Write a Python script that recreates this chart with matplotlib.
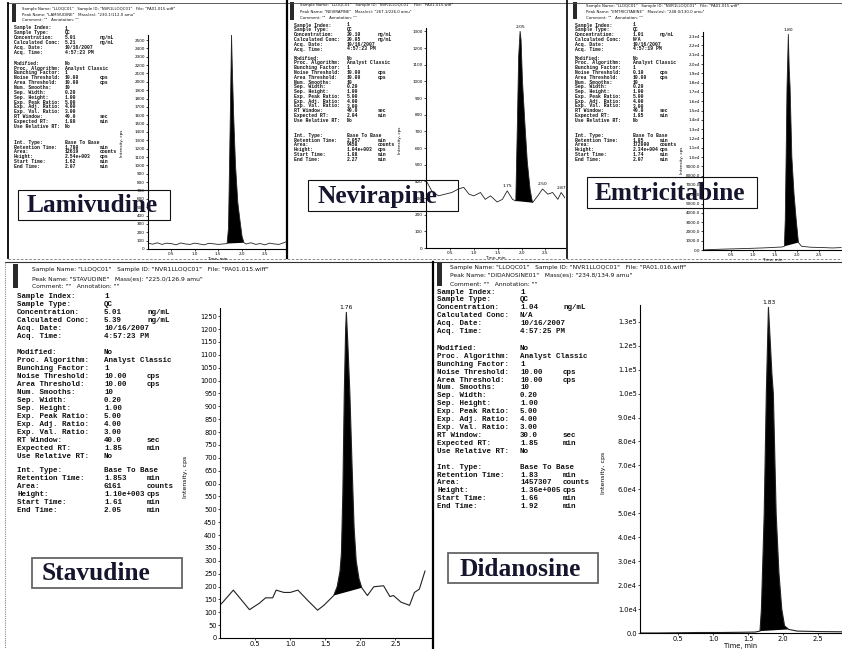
import matplotlib
matplotlib.use("Agg")
import matplotlib.pyplot as plt
from matplotlib.patches import Rectangle

W, H = 842, 649

# ---- chromatograms: time (min) / intensity (cps) ----
lam_t = [0.00, 0.10, 0.20, 0.30, 0.40, 0.50, 0.60, 0.70, 0.80, 0.90, 1.00, 1.10, 1.20,
         1.30, 1.40, 1.50, 1.60, 1.69, 1.72, 1.745, 1.77, 1.785, 1.80, 1.83, 1.87, 1.92,
         1.97, 2.01, 2.05, 2.10, 2.20, 2.30, 2.40, 2.50, 2.60, 2.70, 2.80, 2.90, 2.96]
lam_i = [70, 58, 74, 55, 70, 64, 50, 72, 60, 55, 70, 60, 50,
         68, 62, 55, 60, 65, 250, 1100, 2000, 2560, 2200, 1600, 1000, 550,
         320, 150, 75, 60, 75, 55, 65, 50, 70, 60, 55, 75, 90]
lam_peak = (1.69, 2.05)

nev_t = [0.01, 0.12, 0.26, 0.40, 0.54, 0.68, 0.79, 0.90, 1.00, 1.14, 1.24, 1.35, 1.49,
         1.60, 1.70, 1.81, 1.88, 1.91, 1.94, 1.97, 1.99, 2.02, 2.07, 2.12, 2.18, 2.23,
         2.34, 2.44, 2.55, 2.65, 2.76, 2.83, 2.91]
nev_i = [400, 343, 313, 323, 333, 354, 364, 323, 313, 333, 292, 313, 276,
         292, 343, 292, 282, 700, 1150, 1300, 1250, 1000, 750, 520, 350, 272,
         313, 354, 323, 333, 292, 333, 300]
nev_peak = (1.88, 2.23)
nev_marks = [(1.97, 1300, "2.05"), (1.70, 343, "1.75"), (2.44, 354, "2.50"), (2.83, 333, "2.87")]

emt_t = [-0.14, 0.00, 0.30, 0.60, 0.90, 1.20, 1.40, 1.55, 1.65, 1.71, 1.73, 1.75, 1.77,
         1.80, 1.82, 1.84, 1.88, 1.93, 1.98, 2.03, 2.10, 2.30, 2.60, 2.80, 3.00]
emt_i = [0, 40, 90, 130, 170, 220, 260, 300, 320, 400, 3200, 10000, 17500,
         23200, 19500, 17500, 10000, 6000, 3200, 800, 400, 300, 260, 220, 260]
emt_peak = (1.71, 2.03)
emt_marks = [(1.80, 23200, "1.80")]

sta_t = [0.02, 0.19, 0.42, 0.56, 0.65, 0.75, 0.80, 0.91, 1.00, 1.11, 1.25, 1.39, 1.48,
         1.62, 1.67, 1.71, 1.73, 1.75, 1.77, 1.79, 1.80, 1.82, 1.85, 1.88, 1.91, 1.94,
         1.98, 2.02, 2.10, 2.19, 2.33, 2.42, 2.47, 2.58, 2.70, 2.77, 2.84, 2.92]
sta_i = [133, 186, 110, 135, 156, 156, 186, 177, 177, 186, 146, 108, 127,
         165, 200, 260, 330, 560, 940, 1200, 1265, 1150, 950, 680, 430, 300,
         230, 195, 165, 199, 203, 161, 165, 139, 127, 177, 190, 260]
sta_peak = (1.62, 2.02)
sta_marks = [(1.80, 1265, "1.76")]

did_t = [-0.04, 0.20, 0.50, 0.80, 1.10, 1.40, 1.60, 1.67, 1.69, 1.73, 1.76, 1.79, 1.81,
         1.84, 1.86, 1.90, 1.94, 1.98, 2.02, 2.08, 2.20, 2.50, 2.84]
did_i = [0, 0, 100, 200, 200, 300, 400, 800, 10000, 50000, 100000, 136000, 125000,
         108000, 100000, 50000, 25000, 10000, 3000, 1500, 800, 600, 500]
did_peak = (1.67, 2.08)
did_marks = [(1.79, 136000, "1.83")]

x_ticks = [0.5, 1.0, 1.5, 2.0, 2.5]
x_labels = ["0.5", "1.0", "1.5", "2.0", "2.5"]
lam_yticks = list(range(0, 2501, 100))
nev_yticks = list(range(0, 1301, 100))
sta_yticks = list(range(0, 1251, 50))
emt_yticks = list(range(0, 23001, 1000))
emt_ylabels = ["0.0", "1000.0", "2000.0", "3000.0", "4000.0", "5000.0", "6000.0", "7000.0",
               "8000.0", "9000.0", "1.0e4", "1.1e4", "1.2e4", "1.3e4", "1.4e4", "1.5e4",
               "1.6e4", "1.7e4", "1.8e4", "1.9e4", "2.0e4", "2.1e4", "2.2e4", "2.3e4"]
did_yticks = list(range(0, 130001, 10000))
did_ylabels = ["0.0", "1.0e4", "2.0e4", "3.0e4", "4.0e4", "5.0e4", "6.0e4", "7.0e4",
               "8.0e4", "9.0e4", "1.0e5", "1.1e5", "1.2e5", "1.3e5"]

# ---- report text blocks ----
fields = ["Sample Index:", "Sample Type:", "Concentration:", "Calculated Conc:", "Acq. Date:",
          "Acq. Time:", None, "Modified:", "Proc. Algorithm:", "Bunching Factor:",
          "Noise Threshold:", "Area Threshold:", "Num. Smooths:", "Sep. Width:", "Sep. Height:",
          "Exp. Peak Ratio:", "Exp. Adj. Ratio:", "Exp. Val. Ratio:", "RT Window:",
          "Expected RT:", "Use Relative RT:", None, "Int. Type:", "Retention Time:", "Area:",
          "Height:", "Start Time:", "End Time:"]

lam_vals = [("1", ""), ("QC", ""), ("5.01", "ng/mL"), ("5.21", "ng/mL"), ("10/16/2007", ""),
            ("4:57:23 PM", ""), None, ("No", ""), ("Analyst Classic", ""), ("1", ""),
            ("10.00", "cps"), ("10.00", "cps"), ("10", ""), ("0.20", ""), ("1.00", ""),
            ("5.00", ""), ("4.00", ""), ("3.00", ""), ("40.0", "sec"), ("1.80", "min"),
            ("No", ""), None, ("Base To Base", ""), ("1.780", "min"), ("12619", "counts"),
            ("2.54e+003", "cps"), ("1.62", "min"), ("2.07", "min")]
nev_vals = [("1", ""), ("QC", ""), ("20.10", "ng/mL"), ("20.05", "ng/mL"), ("10/16/2007", ""),
            ("4:57:23 PM", ""), None, ("No", ""), ("Analyst Classic", ""), ("1", ""),
            ("10.00", "cps"), ("10.00", "cps"), ("10", ""), ("0.20", ""), ("1.00", ""),
            ("5.00", ""), ("4.00", ""), ("3.00", ""), ("40.0", "sec"), ("2.04", "min"),
            ("No", ""), None, ("Base To Base", ""), ("2.057", "min"), ("9458", "counts"),
            ("1.04e+003", "cps"), ("1.88", "min"), ("2.27", "min")]
emt_vals = [("1", ""), ("QC", ""), ("1.01", "ng/mL"), ("N/A", ""), ("10/16/2007", ""),
            ("4:57:19 PM", ""), None, ("No", ""), ("Analyst Classic", ""), ("1", ""),
            ("0.10", "cps"), ("10.00", "cps"), ("10", ""), ("0.20", ""), ("1.00", ""),
            ("5.00", ""), ("4.00", ""), ("3.00", ""), ("40.0", "sec"), ("1.85", "min"),
            ("No", ""), None, ("Base To Base", ""), ("1.85", "min"), ("172000", "counts"),
            ("2.34e+004", "cps"), ("1.74", "min"), ("2.07", "min")]
sta_vals = [("1", ""), ("QC", ""), ("5.01", "ng/mL"), ("5.39", "ng/mL"), ("10/16/2007", ""),
            ("4:57:23 PM", ""), None, ("No", ""), ("Analyst Classic", ""), ("1", ""),
            ("10.00", "cps"), ("10.00", "cps"), ("10", ""), ("0.20", ""), ("1.00", ""),
            ("5.00", ""), ("4.00", ""), ("3.00", ""), ("40.0", "sec"), ("1.85", "min"),
            ("No", ""), None, ("Base To Base", ""), ("1.853", "min"), ("6161", "counts"),
            ("1.10e+003", "cps"), ("1.61", "min"), ("2.05", "min")]
did_vals = [("1", ""), ("QC", ""), ("1.04", "ng/mL"), ("N/A", ""), ("10/16/2007", ""),
            ("4:57:25 PM", ""), None, ("No", ""), ("Analyst Classic", ""), ("1", ""),
            ("10.00", "cps"), ("10.00", "cps"), ("10", ""), ("0.20", ""), ("1.00", ""),
            ("5.00", ""), ("4.00", ""), ("3.00", ""), ("30.0", "sec"), ("1.85", "min"),
            ("No", ""), None, ("Base To Base", ""), ("1.83", "min"), ("1457307", "counts"),
            ("1.36e+005", "cps"), ("1.66", "min"), ("1.92", "min")]

headers = {
    "lam": ['Sample Name: "LLOQC01"   Sample ID: "NVR1LLOQC01"   File: "PA01.015.wiff"',
            'Peak Name: "LAMIVUDINE"   Mass(es): "230.1/112.0 amu"',
            'Comment: ""   Annotation: ""'],
    "nev": ['Sample Name: "LLOQC01"   Sample ID: "NVR1LLOQC01"   File: "PA01.015.wiff"',
            'Peak Name: "NEVIRAPINE"   Mass(es): "267.1/226.0 amu"',
            'Comment: ""   Annotation: ""'],
    "emt": ['Sample Name: "LLOQC01"   Sample ID: "NVR1LLOQC01"   File: "PA01.015.wiff"',
            'Peak Name: "EMTRICITABINE"   Mass(es): "248.0/130.0 amu"',
            'Comment: ""   Annotation: ""'],
    "sta": ['Sample Name: "LLOQC01"   Sample ID: "NVR1LLOQC01"   File: "PA01.015.wiff"',
            'Peak Name: "STAVUDINE"   Mass(es): "225.0/126.9 amu"',
            'Comment: ""   Annotation: ""'],
    "did": ['Sample Name: "LLOQC01"   Sample ID: "NVR1LLOQC01"   File: "PA01.016.wiff"',
            'Peak Name: "DIDANOSINE01"   Mass(es): "234.8/134.9 amu"',
            'Comment: ""   Annotation: ""'],
}
drug_names = ["Lamivudine", "Nevirapine", "Emtricitabine", "Stavudine", "Didanosine"]

fig = plt.figure(figsize=(W / 100, H / 100), dpi=100)
fig.patch.set_facecolor("white")

ov = fig.add_axes([0, 0, 1, 1], zorder=0)
ov.set_xlim(0, W)
ov.set_ylim(H, 0)
ov.axis("off")

top = fig.add_axes([0, 0, 1, 1], zorder=10)
top.set_xlim(0, W)
top.set_ylim(H, 0)
top.axis("off")
top.patch.set_alpha(0)

MONO = ["Liberation Mono", "DejaVu Sans Mono"]


def report(key, vals, xl, xv, xu, xh, y0, dy, gap1, gap2, hy, fs, hfs):
    for i, line in enumerate(headers[key]):
        ov.text(xh, hy[i], line, fontsize=hfs, va="center", ha="left",
                family="DejaVu Sans", color="#111111")
    y = y0
    blanks = 0
    for name, v in zip(fields, vals):
        if name is None:
            y += (gap1 if blanks == 0 else gap2) - dy
            blanks += 1
            continue
        ov.text(xl, y, name, fontsize=fs, va="center", ha="left", family=MONO,
                weight="bold", color="#111111")
        ov.text(xv, y, v[0], fontsize=fs, va="center", ha="left", family=MONO,
                weight="bold", color="#111111")
        if v[1]:
            ov.text(xu, y, v[1], fontsize=fs, va="center", ha="left", family=MONO,
                    weight="bold", color="#111111")
        y += dy


def chrom(left, right, ytop, bottom, t, it, peak, xlim, ylim, yticks, ylabels, fs,
          marks=(), mfs=3.5, lw=0.6, xlabel=True):
    ax = fig.add_axes([left / W, 1 - bottom / H, (right - left) / W, (bottom - ytop) / H],
                      zorder=5)
    ax.patch.set_alpha(0)
    ax.plot(t, it, color="#222222", lw=lw)
    pt = [a for a in t if peak[0] <= a <= peak[1]]
    pi = [b for a, b in zip(t, it) if peak[0] <= a <= peak[1]]
    ax.fill(pt, pi, color="black", lw=0)
    ax.set_xlim(*xlim)
    ax.set_ylim(*ylim)
    ax.set_xticks(x_ticks)
    ax.set_xticklabels(x_labels)
    ax.set_yticks(yticks)
    ax.set_yticklabels(ylabels if ylabels is not None else [str(v) for v in yticks])
    for s in ("top", "right"):
        ax.spines[s].set_visible(False)
    for s in ("left", "bottom"):
        ax.spines[s].set_linewidth(0.8)
    ax.tick_params(labelsize=fs, length=1.5, width=0.5, pad=0.8)
    if xlabel:
        ax.set_xlabel("Time, min", fontsize=fs, labelpad=0.5)
    for mx, my, lab in marks:
        ax.annotate(lab, (mx, my), xytext=(0, 2), textcoords="offset points",
                    ha="center", va="bottom", fontsize=mfs, annotation_clip=False)
    return ax


# top row
report("lam", lam_vals, 14, 65, 100, 22, 28, 4.85, 11, 16, [9, 15, 20], 3.4, 2.8)
report("nev", nev_vals, 294, 347, 378, 300, 25, 4.8, 9, 15, [5, 12, 18], 3.4, 2.8)
report("emt", emt_vals, 575, 633, 660, 586, 25, 4.8, 9, 15, [6, 12, 18], 3.4, 2.8)
# bottom row
report("sta", sta_vals, 17, 104, 147, 32, 296, 8.0, 16, 15, [270, 279, 287], 5.4, 4.3)
report("did", did_vals, 437, 520, 563, 450, 292, 7.9, 17, 16, [267, 275, 284], 5.4, 4.3)

chrom(148, 287, 35, 249, lam_t, lam_i, lam_peak, (0, 2.97), (0, 2560),
      lam_yticks, None, 3.0)
chrom(426, 565, 28, 248, nev_t, nev_i, nev_peak, (0, 2.91), (0, 1320),
      nev_yticks, None, 3.0, nev_marks, 3.2)
chrom(703, 842, 32, 250, emt_t, emt_i, emt_peak, (-0.14, 3.02), (0, 23450),
      emt_yticks, emt_ylabels, 3.0, emt_marks, 3.2)
# the scan cuts the Stavudine x-axis caption off, only tick labels remain
chrom(220, 432, 308, 638, sta_t, sta_i, sta_peak, (0, 3.02), (0, 1282),
      sta_yticks, None, 4.8, sta_marks, 4.3, 0.8, xlabel=False)
chrom(640, 842, 305, 633, did_t, did_i, did_peak, (-0.043, 2.84), (0, 137000),
      did_yticks, did_ylabels, 4.8, did_marks, 4.3, 0.8)

# y-axis captions
for x, y, fs in [(122, 143, 3.0), (400, 140, 3.0), (682, 160, 3.0), (185, 477, 4.5), (603, 473, 4.5)]:
    ov.text(x, y, "Intensity, cps", rotation=90, fontsize=fs, ha="center", va="center")

# panel frames from the scanned printouts
ov.plot([8, 842], [3, 3], color="#444444", lw=0.6)
ov.plot([8, 8], [3, 258], color="black", lw=1.3)
ov.plot([287, 287], [0, 258], color="black", lw=1.6)
ov.plot([567, 567], [0, 258], color="black", lw=1.2)
ov.plot([8, 842], [259, 259], color="#777777", lw=0.6, ls=(0, (3, 2)))
ov.plot([5, 842], [262, 262], color="#333333", lw=0.8)
ov.plot([5, 5], [262, 649], color="#888888", lw=0.8, ls=(0, (1, 1)))
ov.plot([433, 433], [262, 649], color="black", lw=1.6)
for x0, y0, w, h in [(12, 4, 4, 18), (290, 2, 4, 18), (573, 2, 4, 17), (13, 264, 5, 24), (437, 263, 5, 23)]:
    ov.add_patch(Rectangle((x0, y0), w, h, facecolor="#2a2a2a", edgecolor="none"))

# drug name boxes
boxes = [(18, 190, 152, 30, "#111111", 0.8), (308, 180, 150, 31, "#111111", 0.8),
         (587, 177, 170, 31, "#111111", 0.8), (32, 558, 150, 30, "#666666", 1.3),
         (448, 553, 150, 30, "#666666", 1.3)]
text_x = [27, 318, 595, 42, 460]
for (bx, by, bw, bh, ec, blw), tx, name in zip(boxes, text_x, drug_names):
    top.add_patch(Rectangle((bx, by), bw, bh, facecolor="none", edgecolor=ec, lw=blw))
    top.text(tx, by + bh / 2 + 1, name, fontsize=18.3, family=["Liberation Serif", "DejaVu Serif"],
             weight="bold", color="#15152e", ha="left", va="center")

fig.savefig("out.png", dpi=100)
